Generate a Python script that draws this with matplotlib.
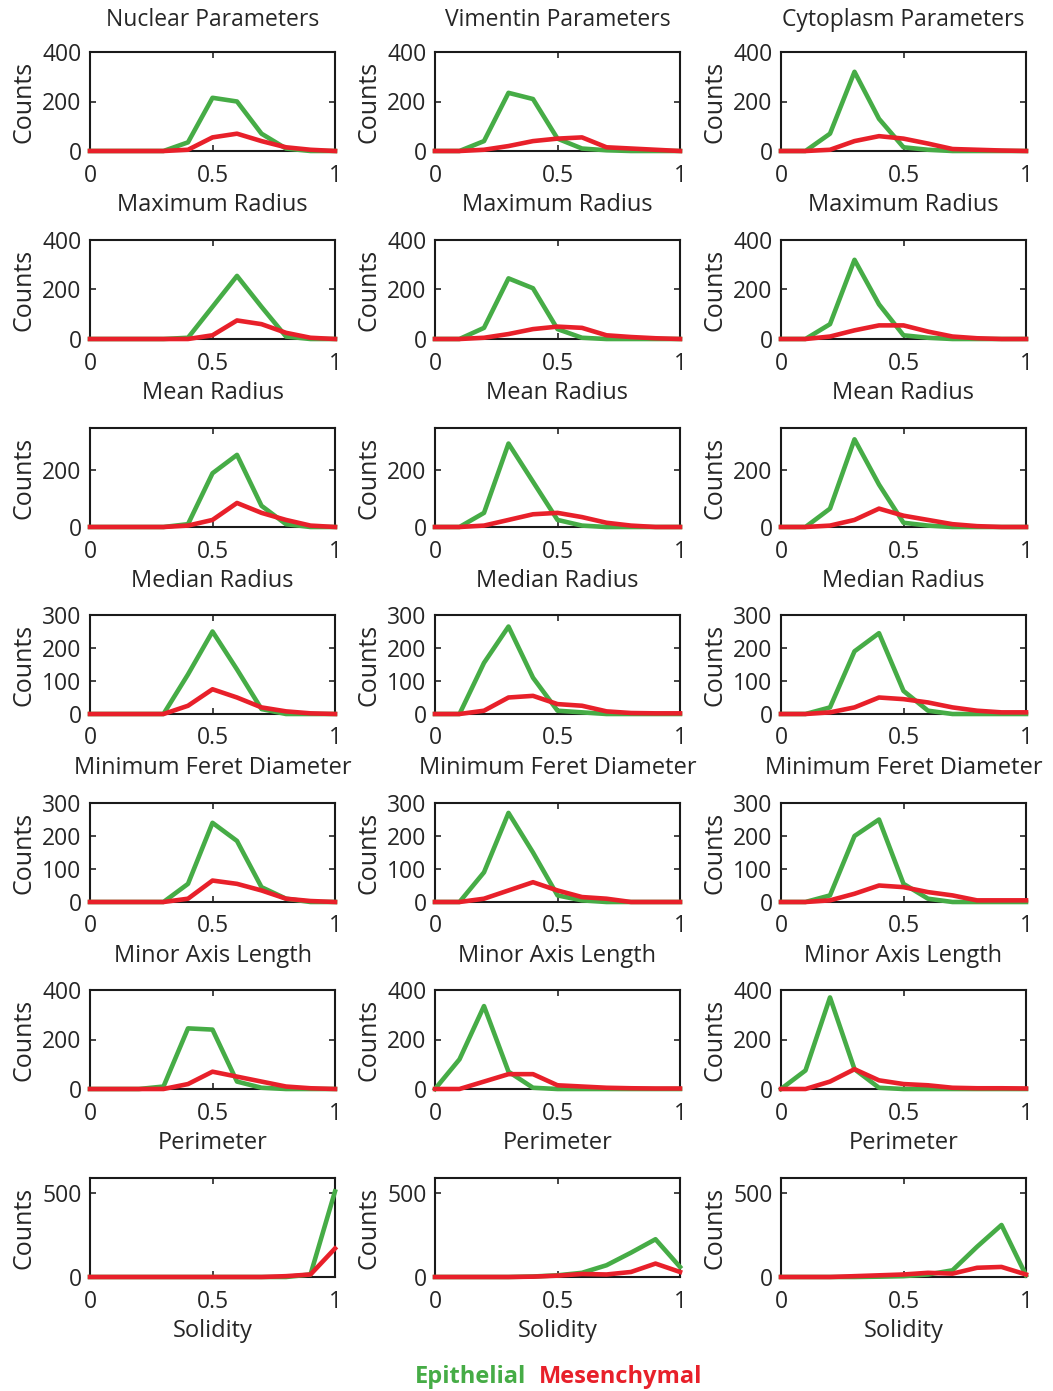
import matplotlib
matplotlib.use("Agg")
import matplotlib.pyplot as plt
import numpy as np

plt.rcParams['font.family'] = ['Open Sans', 'DejaVu Sans']

x = [0, 0.1, 0.2, 0.3, 0.4, 0.5, 0.6, 0.7, 0.8, 0.9, 1.0]

columns = ["Nuclear Parameters", "Vimentin Parameters", "Cytoplasm Parameters"]
features = ["Maximum Radius", "Mean Radius", "Median Radius", "Minimum Feret Diameter",
            "Minor Axis Length", "Perimeter", "Solidity"]
ylims = [400, 400, 350, 300, 300, 400, 590]
yticks = [[0, 200, 400], [0, 200, 400], [0, 200], [0, 100, 200, 300],
          [0, 100, 200, 300], [0, 200, 400], [0, 500]]

# Epithelial (green) counts: [row][col]
epi = [
    [[0, 0, 0, 0, 35, 215, 200, 70, 10, 0, 0],
     [0, 0, 40, 235, 210, 50, 10, 3, 0, 0, 0],
     [0, 0, 70, 320, 130, 15, 5, 0, 0, 0, 0]],
    [[0, 0, 0, 0, 5, 130, 255, 130, 10, 0, 0],
     [0, 0, 45, 245, 205, 40, 5, 0, 0, 0, 0],
     [0, 0, 60, 320, 140, 15, 5, 0, 0, 0, 0]],
    [[0, 0, 0, 0, 10, 190, 255, 75, 10, 0, 0],
     [0, 0, 50, 295, 160, 25, 5, 0, 0, 0, 0],
     [0, 0, 65, 310, 150, 15, 5, 0, 0, 0, 0]],
    [[0, 0, 0, 0, 120, 250, 135, 15, 0, 0, 0],
     [0, 0, 155, 265, 110, 10, 5, 0, 0, 0, 0],
     [0, 0, 20, 190, 245, 70, 10, 0, 0, 0, 0]],
    [[0, 0, 0, 0, 55, 240, 185, 45, 10, 0, 0],
     [0, 0, 90, 270, 150, 20, 5, 0, 0, 0, 0],
     [0, 0, 20, 200, 250, 55, 10, 0, 0, 0, 0]],
    [[0, 0, 0, 10, 245, 240, 30, 5, 0, 0, 0],
     [0, 120, 335, 70, 5, 0, 0, 0, 0, 0, 0],
     [0, 75, 370, 80, 5, 0, 0, 0, 0, 0, 0]],
    [[0, 0, 0, 0, 0, 0, 0, 0, 0, 15, 510],
     [0, 0, 0, 0, 3, 10, 25, 70, 145, 225, 60],
     [0, 0, 0, 0, 2, 5, 15, 40, 180, 310, 10]],
]

# Mesenchymal (red) counts: [row][col]
mes = [
    [[0, 0, 0, 0, 5, 55, 70, 40, 15, 5, 0],
     [0, 0, 5, 20, 40, 50, 55, 15, 10, 5, 0],
     [0, 0, 5, 40, 60, 50, 30, 8, 5, 2, 0]],
    [[0, 0, 0, 0, 0, 15, 75, 60, 25, 5, 0],
     [0, 0, 5, 20, 40, 50, 45, 15, 8, 3, 0],
     [0, 0, 10, 35, 55, 55, 30, 10, 3, 0, 0]],
    [[0, 0, 0, 0, 5, 25, 85, 50, 25, 5, 0],
     [0, 0, 5, 25, 45, 50, 35, 15, 5, 0, 0],
     [0, 0, 5, 25, 65, 40, 25, 10, 3, 0, 0]],
    [[0, 0, 0, 0, 25, 75, 50, 20, 8, 2, 0],
     [0, 0, 10, 50, 55, 30, 25, 8, 3, 2, 2],
     [0, 0, 5, 20, 50, 45, 35, 20, 10, 5, 5]],
    [[0, 0, 0, 0, 10, 65, 55, 35, 10, 3, 0],
     [0, 0, 10, 35, 60, 35, 15, 10, 0, 0, 0],
     [0, 0, 5, 25, 50, 45, 30, 20, 5, 5, 5]],
    [[0, 0, 0, 0, 20, 70, 50, 30, 10, 3, 0],
     [0, 0, 30, 60, 60, 15, 10, 5, 3, 2, 2],
     [0, 0, 30, 80, 35, 20, 15, 5, 3, 3, 2]],
    [[0, 0, 0, 0, 0, 0, 0, 0, 5, 15, 170],
     [0, 0, 0, 0, 2, 8, 18, 15, 30, 80, 30],
     [0, 0, 0, 5, 10, 15, 25, 20, 55, 60, 15]],
]

GREEN = '#46AC46'
RED = '#E8202A'
TXT = '#262626'

W, H = 1053, 1391
fig = plt.figure(figsize=(W / 100, H / 100), dpi=100)

col_lefts = [90, 435, 781]
ax_w = 245
row_tops = [52, 240, 428, 615, 803, 990, 1178]
ax_h = 99

for r in range(7):
    for c in range(3):
        left = col_lefts[c] / W
        bottom = 1 - (row_tops[r] + ax_h) / H
        ax = fig.add_axes([left, bottom, ax_w / W, ax_h / H])
        ax.plot(x, epi[r][c], color=GREEN, lw=3.3, clip_on=False, zorder=3)
        ax.plot(x, mes[r][c], color=RED, lw=3.3, clip_on=False, zorder=4)
        ax.set_xlim(0, 1)
        ax.set_ylim(0, ylims[r])
        ax.set_xticks([0, 0.5, 1])
        ax.set_xticklabels(['0', '0.5', '1'])
        ax.set_yticks(yticks[r])
        ax.tick_params(direction='in', top=True, right=True, length=4, width=1.2,
                       labelsize=16.5, colors=TXT, pad=6)
        ax.tick_params(axis='x', pad=9)
        for s in ax.spines.values():
            s.set_linewidth(1.5)
            s.set_color('#1a1a1a')
        ax.set_ylabel('Counts', fontsize=18, color=TXT, labelpad=4)
        ax.set_xlabel(features[r], fontsize=17, color=TXT, labelpad=4)
        if r == 0:
            ax.set_title(columns[c], fontsize=16.5, color=TXT, pad=19)

fig.text(0.5, 1 - 1377 / H, 'Epithelial', color=GREEN, fontsize=17, fontweight='bold',
         ha='right', va='center')
fig.text(0.512, 1 - 1377 / H, 'Mesenchymal', color=RED, fontsize=17, fontweight='bold',
         ha='left', va='center')

fig.savefig('out.png', dpi=100, facecolor='white')
